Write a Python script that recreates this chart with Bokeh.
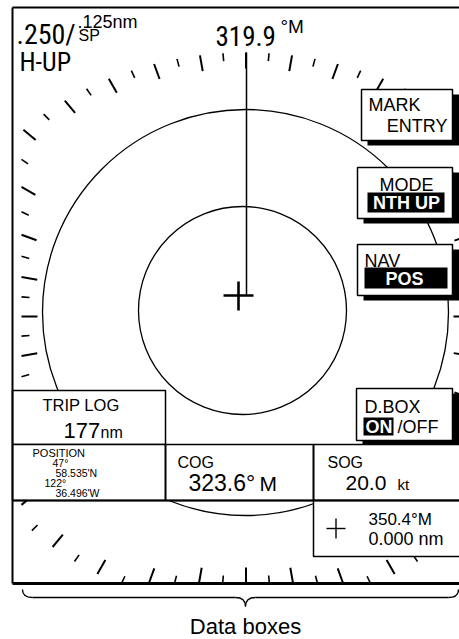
import numpy as np
from bokeh.plotting import figure
from bokeh.models import Range1d
from bokeh.embed import file_html
from bokeh.resources import INLINE
from bokeh.core.properties import value

# ---------------- data ----------------
tick_bearings = list(range(0, 360, 5))          # bearing scale, every 5 degrees
long_tick_step = 10                              # long tick every 10 degrees
range_main = ".250/"
range_ring = ".125nm"
range_sp = "SP"
orientation = "H-UP"
heading_value = "319.9"
heading_unit = "\u00b0M"
button_labels = ["MARK", "ENTRY", "MODE", "NTH UP", "NAV", "POS", "D.BOX", "ON", "/OFF"]
trip_log = ["TRIP LOG", "177", "nm"]
position_lines = ["POSITION", "47\u00b0", "58.535'N", "122\u00b0", "36.496'W"]
cog = ["COG", "323.6\u00b0", "M"]
sog = ["SOG", "20.0", "kt"]
cursor = ["350.4\u00b0M", "0.000 nm"]
caption = "Data boxes"

# ---------------- figure (reference-pixel coordinates) ----------------
W, H = 459, 639
p = figure(width=W, height=H, x_range=Range1d(0, W), y_range=Range1d(H, 0),
           output_backend="svg", toolbar_location=None, min_border=0)
p.axis.visible = False
p.grid.visible = False
p.outline_line_color = None
p.background_fill_color = "white"
p.border_fill_color = "white"

REG = value("Liberation Sans")
NAR = value("Roboto Condensed, DejaVu Sans Condensed, Liberation Sans Narrow, Liberation Sans")
K = 0.38   # baseline correction (fraction of font size)


def txt(x, y, s, size, font=REG, style="normal", color="black", align="left"):
    p.text(x=[x], y=[y - K * size], text=[s], text_font=font, text_font_size=f"{size}px",
           text_font_style=style, text_color=color, text_align=align,
           text_baseline="alphabetic")


# ---------------- bearing ticks ----------------
CX, CY = 245.5, 316
A, B_TOP, B_BOT = 315, 264, 292
X_MIN, X_MAX, Y_MAX = 21, 469, 583
segs = {True: ([], [], [], []), False: ([], [], [], [])}
for b in tick_bearings:
    t = np.radians(b)
    dx, dy = np.sin(t), -np.cos(t)
    bb = B_TOP if dy < 0 else B_BOT
    r = 1 / np.sqrt((dx / A) ** 2 + (dy / bb) ** 2)
    if dx < -1e-9:
        r = min(r, (CX - X_MIN) / (-dx))
    if dx > 1e-9:
        r = min(r, (X_MAX - CX) / dx)
    if dy > 1e-9:
        r = min(r, (Y_MAX - CY) / dy)
    is_long = (b % long_tick_step == 0)
    L = 16 if is_long else 8
    ri = r - L
    s = segs[is_long]
    s[0].append(CX + ri * dx); s[1].append(CY + ri * dy)
    s[2].append(CX + r * dx); s[3].append(CY + r * dy)

for is_long, (x0, y0, x1, y1) in segs.items():
    p.segment(x0=x0, y0=y0, x1=x1, y1=y1, line_color="black",
              line_width=2 if is_long else 1.6)

# ---------------- range rings, heading line, own ship ----------------
p.circle(x=[245], y=[312], radius=203, fill_color=None, line_color="black", line_width=1.3)
p.circle(x=[242], y=[310], radius=104, fill_color=None, line_color="black", line_width=1.3)
p.segment(x0=[246], y0=[52], x1=[246], y1=[295], line_color="black", line_width=1.5)
p.segment(x0=[223, 238], y0=[295, 281], x1=[253, 238], y1=[295, 310],
          line_color="black", line_width=2.6)

# ---------------- soft-key boxes with shadows ----------------
boxes = [(361, 452, 89, 140), (357, 452, 167, 218), (357, 452, 244, 295), (356, 452, 388, 440)]
for (l, r, t, bt) in boxes:
    p.quad(left=[l + 6], right=[r + 7], top=[t + 5], bottom=[bt + 5],
           fill_color="black", line_color=None)
    p.quad(left=[l], right=[r], top=[t], bottom=[bt],
           fill_color="white", line_color="black", line_width=1.5)
# inverse-video fields
p.quad(left=[367, 364, 363], right=[444, 447, 393], top=[192, 267, 417], bottom=[212, 288, 435],
       fill_color="black", line_color=None)

txt(368, 111, button_labels[0], 18)
txt(447, 132, button_labels[1], 18, align="right")
txt(406, 191, button_labels[2], 18, align="center")
txt(406, 209, button_labels[3], 18, style="bold", color="white", align="center")
txt(364, 267, button_labels[4], 18)
txt(404, 285, button_labels[5], 18, style="bold", color="white", align="center")
txt(364, 413, button_labels[6], 18)
txt(365, 433, button_labels[7], 18, style="bold", color="white")
txt(397, 433, button_labels[8], 18)

# ---------------- data boxes ----------------
p.quad(left=[12], right=[165], top=[390], bottom=[444], fill_color="white",
       line_color="black", line_width=1.5)
p.quad(left=[12], right=[462], top=[444], bottom=[500], fill_color="white",
       line_color="black", line_width=1.5)
p.quad(left=[313], right=[462], top=[500], bottom=[556], fill_color="white",
       line_color="black", line_width=1.5)
p.segment(x0=[165, 313, 12], y0=[444, 444, 500], x1=[165, 313, 462], y1=[500, 500, 500],
          line_color="black", line_width=2)

txt(42, 411, trip_log[0], 16.5)
txt(63, 438, trip_log[1], 22)
txt(100, 438, trip_log[2], 16)

txt(32, 457, position_lines[0], 11)
txt(52, 466, position_lines[1], 10.5)
txt(55, 476, position_lines[2], 10.5)
txt(44, 486, position_lines[3], 10.5)
txt(55, 496, position_lines[4], 10.5)

txt(177, 468, cog[0], 16)
txt(188, 491, cog[1], 23)
txt(259, 491, cog[2], 21)

txt(327, 468, sog[0], 16)
txt(345, 490, sog[1], 21)
txt(397, 490, sog[2], 15)

p.segment(x0=[326, 335.5], y0=[528, 518], x1=[345, 335.5], y1=[528, 538],
          line_color="black", line_width=1.4)
txt(368, 525, cursor[0], 17)
txt(368, 545, cursor[1], 18)

# ---------------- header texts ----------------
txt(16, 45, range_main, 28, font=NAR)
txt(77, 28, range_ring, 18)
txt(78, 41, range_sp, 16)
txt(19, 71, orientation, 26, font=NAR)
txt(215, 46, heading_value, 27, font=NAR)
txt(280, 33, heading_unit, 19)

# ---------------- outer frame ----------------
p.segment(x0=[12, 12], y0=[7, 7], x1=[462, 12], y1=[7, 583], line_color="black", line_width=2)
p.segment(x0=[12], y0=[583], x1=[462], y1=[583], line_color="black", line_width=3)

# ---------------- brace and caption ----------------
p.quadratic(x0=[22, 235, 245, 448], y0=[589, 597, 606, 597],
            x1=[32, 245, 255, 458], y1=[597, 606, 597, 589],
            cx=[22, 245, 245, 458], cy=[597, 597, 597, 597],
            line_color="black", line_width=1.3)
p.segment(x0=[32, 255], y0=[597, 597], x1=[235, 448], y1=[597, 597],
          line_color="black", line_width=1.3)
txt(245, 634, caption, 22, align="center")

open("out.html", "w").write(file_html(p, INLINE))
